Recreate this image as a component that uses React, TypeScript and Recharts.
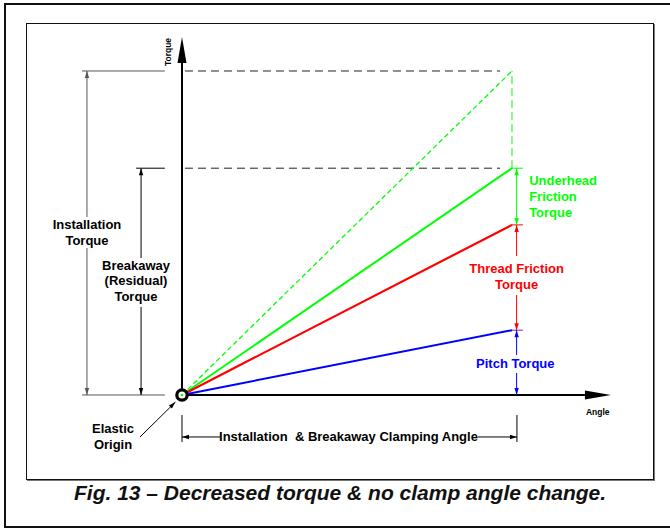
import React from 'react';
import { ComposedChart, Line, Scatter, XAxis, YAxis, ReferenceLine, ReferenceDot } from 'recharts';

// ---- data (angle units / torque units) ----
const angle = [0, 10]; // origin -> installation & breakaway clamping angle
const installationTorque = [0, 10]; // dashed green (installation)
const breakawayTorque = [0, 7]; // solid green (underhead + thread + pitch)
const threadTorque = [0, 5.25]; // red (thread + pitch)
const pitchTorque = [0, 2]; // blue
const elasticOriginAngle = [0];
const elasticOriginTorque = [0];

const data = angle.map((a, i) => ({
  angle: a,
  install: installationTorque[i],
  breakaway: breakawayTorque[i],
  thread: threadTorque[i],
  pitch: pitchTorque[i],
}));
const originData = elasticOriginAngle.map((a, i) => ({ angle: a, origin: elasticOriginTorque[i] }));

const CLAMP = angle[1];
const T_INST = installationTorque[1];
const T_BRK = breakawayTorque[1];
const T_THR = threadTorque[1];
const T_PIT = pitchTorque[1];

const XDOM: [number, number] = [-5.515, 14.788];
const YDOM: [number, number] = [-4.136, 12.191];

const GREEN = '#00ff00';
const RED = '#ff0000';
const BLUE = '#0000ff';
const FONT = "'Liberation Sans', Arial, Helvetica, sans-serif";

type SegOpts = { w?: number; dash?: string; end?: string; start?: string };
const seg = (key: string, x1: number, y1: number, x2: number, y2: number, stroke: string, o: SegOpts = {}) => (
  <ReferenceLine
    key={key}
    segment={[{ x: x1, y: y1 }, { x: x2, y: y2 }]}
    ifOverflow="visible"
    stroke={stroke}
    shape={(p: any) => (
      <line
        x1={p.x1}
        y1={p.y1}
        x2={p.x2}
        y2={p.y2}
        stroke={stroke}
        strokeWidth={o.w ?? 1}
        strokeDasharray={o.dash}
        markerEnd={o.end ? `url(#${o.end})` : undefined}
        markerStart={o.start ? `url(#${o.start})` : undefined}
      />
    )}
  />
);

type TxtOpts = { color?: string; size?: number; anchor?: 'start' | 'middle' | 'end'; lh?: number; italic?: boolean; rotate?: number };
const txt = (key: string, x: number, y: number, lines: string[], o: TxtOpts = {}) => (
  <ReferenceDot
    key={key}
    x={x}
    y={y}
    r={1}
    ifOverflow="visible"
    shape={(p: any) => (
      <text
        x={p.cx}
        y={p.cy}
        textAnchor={o.anchor ?? 'middle'}
        fill={o.color ?? '#000'}
        fontSize={o.size ?? 13}
        fontWeight="bold"
        fontStyle={o.italic ? 'italic' : 'normal'}
        fontFamily={FONT}
        style={{ whiteSpace: 'pre' }}
        transform={o.rotate ? `rotate(${o.rotate}, ${p.cx}, ${p.cy})` : undefined}
      >
        {lines.map((l, i) => (
          <tspan key={i} x={p.cx} dy={i === 0 ? 0 : o.lh ?? 16}>
            {l}
          </tspan>
        ))}
      </text>
    )}
  />
);

const arrowMarker = (id: string, color: string, len: number, half: number) => (
  <marker
    key={id}
    id={id}
    markerUnits="userSpaceOnUse"
    markerWidth={len}
    markerHeight={half * 2}
    refX={len}
    refY={half}
    orient="auto-start-reverse"
    overflow="visible"
  >
    <path d={`M0,0 L${len},${half} L0,${half * 2} Z`} fill={color} />
  </marker>
);

const OriginShape = (p: any) => {
  if (p.cx == null || p.cy == null || isNaN(p.cx) || isNaN(p.cy)) return <g />;
  return (
    <g>
      <circle cx={p.cx} cy={p.cy} r={5.2} fill="#fff" stroke="#000" strokeWidth={3.2} />
      <circle cx={p.cx} cy={p.cy} r={1.3} fill={GREEN} />
    </g>
  );
};

export default function App() {
  return (
    <div style={{ position: 'absolute', left: 0, top: 0, width: 670, height: 529, overflow: 'hidden', background: '#fff' }}>
      <svg width={0} height={0} style={{ position: 'absolute' }}>
        <defs>
          <marker id="axisArrow" markerUnits="userSpaceOnUse" markerWidth={26} markerHeight={9} refX={0} refY={4.5} orient="auto" overflow="visible">
            <path d="M0,0 L26,4.5 L0,9 Z" fill="#000" />
          </marker>
          {arrowMarker('arBlack', '#000', 7, 2.2)}
          {arrowMarker('arGray', '#555', 7, 2.2)}
          {arrowMarker('arGreen', GREEN, 7, 2.2)}
          {arrowMarker('arRed', RED, 7, 2.2)}
          {arrowMarker('arBlue', BLUE, 7, 2.2)}
        </defs>
      </svg>
      {/* outer frame */}
      <div style={{ position: 'absolute', left: 4, top: 3, width: 680, height: 521, border: '2px solid #111' }} />
      {/* inner box */}
      <div style={{ position: 'absolute', left: 26, top: 23, width: 626, height: 455, border: '1px solid #111', boxShadow: '1px 1px 0 #777' }} />
      <div style={{ position: 'absolute', left: 0, top: 0 }}>
        <ComposedChart width={670} height={529} data={data} margin={{ top: 0, right: 0, bottom: 0, left: 0 }}>
          <XAxis type="number" dataKey="angle" domain={XDOM} hide allowDataOverflow />
          <YAxis type="number" domain={YDOM} hide allowDataOverflow />

          {/* dashed reference lines */}
          {seg('dInst', 0.09, T_INST, 9.64, T_INST, '#222', { dash: '8 5' })}
          {seg('dBrk', 0.09, T_BRK, 9.64, T_BRK, '#222', { dash: '8 5' })}
          {seg('dVert', CLAMP, T_BRK, CLAMP, T_INST, GREEN, { dash: '8 4' })}

          {/* axes */}
          {seg('yAxis', 0, 0, 0, 10.247, '#000', { w: 2, end: 'axisArrow' })}
          {seg('xAxis', 0, 0, 12.21, 0, '#000', { w: 2, end: 'axisArrow' })}

          {/* left dimension: installation torque */}
          {seg('eInstTop', -3.03, T_INST, -0.52, T_INST, '#555')}
          {seg('eInstBot', -3.03, 0, -0.52, 0, '#555')}
          {seg('eBrkTop', -1.39, T_BRK, -0.52, T_BRK, '#000')}
          {seg('instUp', -2.88, 5.494, -2.88, T_INST, '#555', { end: 'arGray' })}
          {seg('instDn', -2.88, 4.537, -2.88, 0, '#555', { end: 'arGray' })}
          {seg('brkUp', -1.24, 4.228, -1.24, T_BRK, '#000', { end: 'arBlack' })}
          {seg('brkDn', -1.24, 2.716, -1.24, 0, '#000', { end: 'arBlack' })}

          {/* right dimensions */}
          {seg('tGreen', CLAMP, T_BRK, 10.33, T_BRK, GREEN)}
          {seg('tRed', CLAMP, T_THR, 10.33, T_THR, RED)}
          {seg('tBlue', CLAMP, T_PIT, 10.33, T_PIT, '#8020c0')}
          {seg('gDim', 10.14, T_BRK, 10.14, T_THR, GREEN, { start: 'arGreen', end: 'arGreen' })}
          {seg('rUp', 10.14, 4.29, 10.14, T_THR, RED, { end: 'arRed' })}
          {seg('rDn', 10.14, 3.086, 10.14, T_PIT, RED, { end: 'arRed' })}
          {seg('bUp', 10.14, 1.235, 10.14, T_PIT, BLUE, { end: 'arBlue' })}
          {seg('bDn', 10.14, 0.679, 10.14, 0, BLUE, { end: 'arBlue' })}

          {/* bottom dimension */}
          {seg('bx0', 0, -0.617, 0, -1.45, '#000')}
          {seg('bx1', 10.15, -0.617, 10.15, -1.45, '#000')}
          {seg('bL', 1.15, -1.296, 0, -1.296, '#000', { end: 'arBlack' })}
          {seg('bR', 8.97, -1.296, 10.15, -1.296, '#000', { end: 'arBlack' })}

          {/* elastic origin leader */}
          {seg('leader', -1.273, -1.296, -0.2, -0.22, '#000', { end: 'arBlack' })}

          {/* torque lines */}
          <Line type="linear" dataKey="install" stroke={GREEN} strokeWidth={1.3} strokeDasharray="5 3" dot={false} activeDot={false} isAnimationActive={false} />
          <Line type="linear" dataKey="breakaway" stroke={GREEN} strokeWidth={2} dot={false} activeDot={false} isAnimationActive={false} />
          <Line type="linear" dataKey="thread" stroke={RED} strokeWidth={2.2} dot={false} activeDot={false} isAnimationActive={false} />
          <Line type="linear" dataKey="pitch" stroke={BLUE} strokeWidth={2} dot={false} activeDot={false} isAnimationActive={false} />

          {/* elastic origin marker (drawn above the lines) */}
          <Scatter data={originData} dataKey="origin" shape={OriginShape} isAnimationActive={false} />

          {/* texts */}
          {txt('tTorque', -0.333, 10.586, ['Torque'], { size: 8.5, rotate: -90 })}
          {txt('tAngle', 12.6, -0.617, ['Angle'], { size: 8.5 })}
          {txt('tUnder', 10.52, 6.48, ['Underhead', 'Friction', 'Torque'], { color: GREEN, anchor: 'start' })}
          {txt('tThread', 10.14, 3.765, ['Thread Friction', 'Torque'], { color: RED })}
          {txt('tPitch', 10.1, 0.833, ['Pitch Torque'], { color: BLUE })}
          {txt('tInst', -2.88, 5.123, ['Installation', 'Torque'])}
          {txt('tBrk', -1.394, 3.858, ['Breakaway', '(Residual)', 'Torque'], { lh: 15.5 })}
          {txt('tElastic', -2.09, -1.173, ['Elastic', 'Origin'])}
          {txt('tClamp', 5.045, -1.42, ['Installation  & Breakaway Clamping Angle'])}
          {txt('tCaption', 4.79, -3.256, ['Fig. 13 \u2013 Decreased torque & no clamp angle change.'], { size: 21, italic: true, color: '#111' })}
        </ComposedChart>
      </div>
    </div>
  );
}
